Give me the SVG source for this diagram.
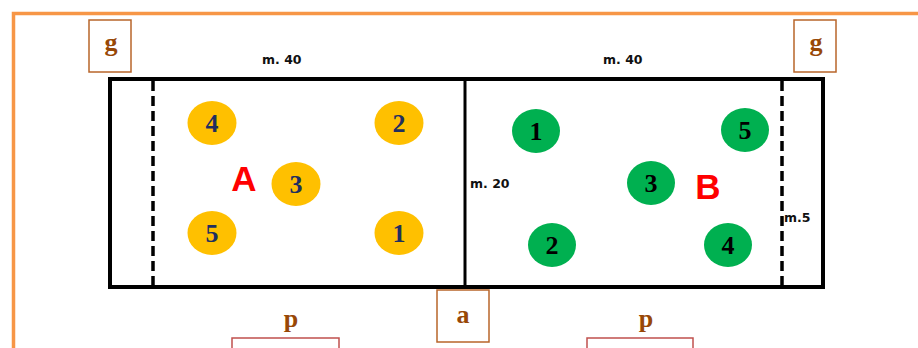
<svg xmlns="http://www.w3.org/2000/svg" width="918" height="348" viewBox="0 0 918 348">
<style>
.lbl{font-family:"Liberation Serif",serif;font-weight:bold;font-size:26px;fill:#984806;text-anchor:middle}
.box{fill:#fff;stroke:#B8652A;stroke-width:1.5}
.pbox{fill:#fff;stroke:#C0504D;stroke-width:1.5}
.m{font-family:"DejaVu Sans",sans-serif;font-weight:bold;font-size:12.5px;fill:#111}
.yl{fill:#FFC000}
.gr{fill:#00B050}
.ny{font-family:"Liberation Serif",serif;font-weight:bold;font-size:26px;fill:#1F2F5F;text-anchor:middle}
.nb{font-family:"Liberation Serif",serif;font-weight:bold;font-size:26px;fill:#000;text-anchor:middle}
.team{font-family:"Liberation Sans",sans-serif;font-weight:bold;font-size:35px;fill:#FF0000;text-anchor:middle}
</style>
<rect x="0" y="0" width="918" height="348" fill="#fff"/>
<path d="M13.5 348 V13.5 H918" fill="none" stroke="#F79646" stroke-width="3.5"/>
<g id="court">
<rect x="110" y="79" width="713" height="208" fill="none" stroke="#000" stroke-width="4"/>
<line x1="465" y1="79" x2="465" y2="287" stroke="#000" stroke-width="3"/>
<line x1="153" y1="81" x2="153" y2="285" stroke="#000" stroke-width="3.5" stroke-dasharray="10,5"/>
<line x1="782" y1="81" x2="782" y2="285" stroke="#000" stroke-width="3.5" stroke-dasharray="10,5"/>
</g>
<g id="g-left"><rect class="box" x="89" y="20" width="42" height="52"/><text class="lbl" x="111" y="51">g</text></g>
<g id="g-right"><rect class="box" x="794" y="20" width="42" height="52"/><text class="lbl" x="816" y="51">g</text></g>
<g id="a"><rect class="box" x="437" y="290" width="52" height="52"/><text class="lbl" x="463" y="323">a</text></g>
<g id="p-left"><text class="lbl" x="291" y="327">p</text><rect class="pbox" x="232" y="338" width="107" height="20"/></g>
<g id="p-right"><text class="lbl" x="646" y="327">p</text><rect class="pbox" x="587" y="338" width="106" height="20"/></g>
<g id="labels">
<text class="m" x="262" y="64">m. 40</text>
<text class="m" x="603" y="64">m. 40</text>
<text class="m" x="470" y="188">m. 20</text>
<text class="m" x="784" y="222">m.5</text>
</g>
<g id="team-a">
<text class="team" x="244" y="191">A</text>
<g id="a4"><ellipse class="yl" cx="212" cy="123" rx="24.5" ry="22"/><text class="ny" x="212" y="132">4</text></g>
<g id="a2"><ellipse class="yl" cx="399" cy="123" rx="24.5" ry="22"/><text class="ny" x="399" y="132">2</text></g>
<g id="a3"><ellipse class="yl" cx="296" cy="184" rx="24.5" ry="22"/><text class="ny" x="296" y="193">3</text></g>
<g id="a5"><ellipse class="yl" cx="212" cy="233" rx="24.5" ry="22"/><text class="ny" x="212" y="242">5</text></g>
<g id="a1"><ellipse class="yl" cx="399" cy="233" rx="24.5" ry="22"/><text class="ny" x="399" y="242">1</text></g>
</g>
<g id="team-b">
<text class="team" x="708" y="199">B</text>
<g id="b1"><ellipse class="gr" cx="536" cy="131" rx="24" ry="22"/><text class="nb" x="536" y="140">1</text></g>
<g id="b5"><ellipse class="gr" cx="745" cy="130" rx="24" ry="22"/><text class="nb" x="745" y="139">5</text></g>
<g id="b3"><ellipse class="gr" cx="651" cy="183" rx="24" ry="22"/><text class="nb" x="651" y="192">3</text></g>
<g id="b2"><ellipse class="gr" cx="552" cy="245" rx="24" ry="22"/><text class="nb" x="552" y="254">2</text></g>
<g id="b4"><ellipse class="gr" cx="728" cy="245" rx="24" ry="22"/><text class="nb" x="728" y="254">4</text></g>
</g>
</svg>
